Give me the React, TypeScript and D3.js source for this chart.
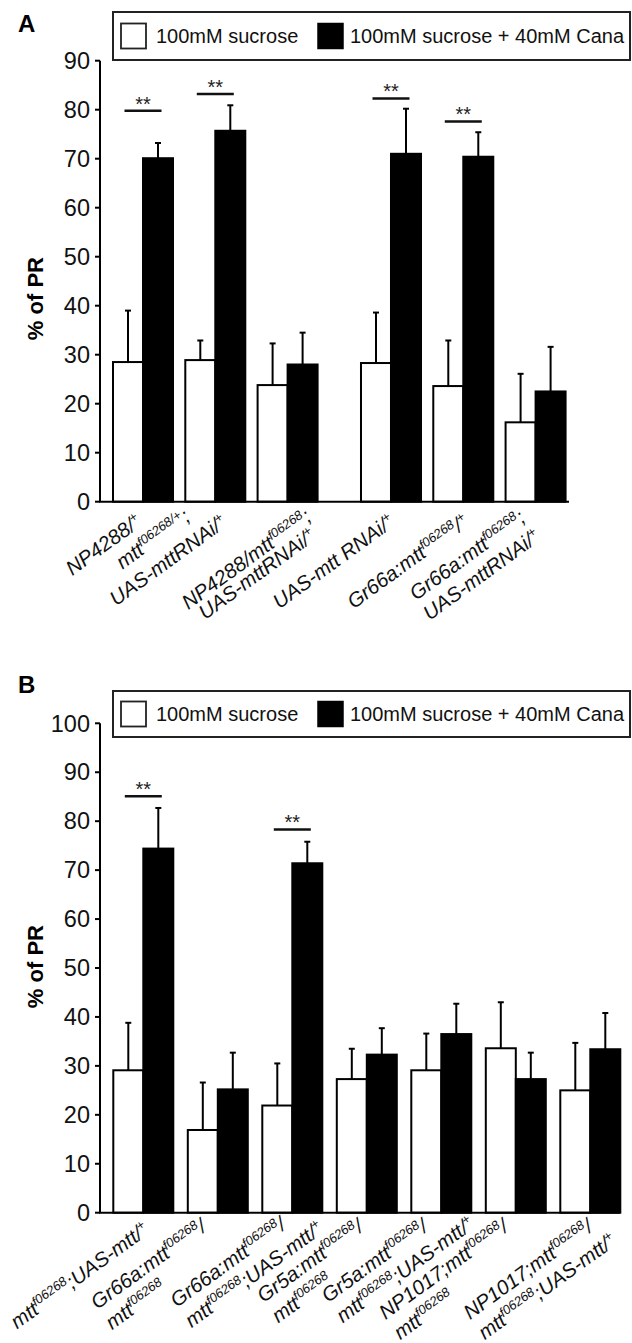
import React, { useLayoutEffect, useRef, useState } from "react";
import * as d3 from "d3";

// ---------- data ----------
const legendLabels = ["100mM sucrose", "100mM sucrose + 40mM Cana"];

const categoriesA = [
  ["NP4288/^{+}"],
  ["mtt^{f06268/+};", "UAS-mttRNAi/^{+}"],
  ["NP4288/mtt^{f06268};", "UAS-mttRNAi/^{+}"],
  ["UAS-mtt RNAi/^{+}"],
  ["Gr66a:mtt^{f06268}/^{+}"],
  ["Gr66a:mtt^{f06268};", "UAS-mttRNAi/^{+}"],
];
const sucroseA = [28.5, 28.9, 23.8, 28.3, 23.6, 16.2];
const sucroseErrA = [10.5, 4.0, 8.5, 10.3, 9.3, 9.9];
const canaA = [70.1, 75.7, 28.0, 71.0, 70.4, 22.5];
const canaErrA = [3.1, 5.2, 6.5, 9.2, 5.0, 9.1];
const sigGroupsA = [0, 1, 3, 4];
const sigLevelsA = [79.8, 83.2, 82.3, 77.6];
const ticksA = [0, 10, 20, 30, 40, 50, 60, 70, 80, 90];

const categoriesB = [
  ["mtt^{f06268};UAS-mtt/^{+}"],
  ["Gr66a:mtt^{f06268}/", "mtt^{f06268}"],
  ["Gr66a:mtt^{f06268}/", "mtt^{f06268};UAS-mtt/^{+}"],
  ["Gr5a:mtt^{f06268}/", "mtt^{f06268}"],
  ["Gr5a:mtt^{f06268}/", "mtt^{f06268};UAS-mtt/^{+}"],
  ["NP1017;mtt^{f06268}/", "mtt^{f06268}"],
  ["NP1017;mtt^{f06268}/", "mtt^{f06268};UAS-mtt/^{+}"],
];
const sucroseB = [29.1, 16.9, 21.9, 27.3, 29.1, 33.6, 25.0];
const sucroseErrB = [9.7, 9.7, 8.6, 6.2, 7.5, 9.4, 9.7];
const canaB = [74.4, 25.2, 71.4, 32.3, 36.5, 27.3, 33.4];
const canaErrB = [8.3, 7.5, 4.4, 5.4, 6.2, 5.4, 7.4];
const sigGroupsB = [0, 2];
const sigLevelsB = [85.1, 78.3];
const ticksB = [0, 10, 20, 30, 40, 50, 60, 70, 80, 90, 100];

// ---------- layout ----------
const FONT = "'Liberation Sans', Arial, Helvetica, sans-serif";
const BAR_W = 30;
const LABEL_ANGLE = -36;

// per-label placement of the end of line 1 relative to (group centre, axis)
const labelOffsetA = [[0, 23], [-24, 18], [25, 18], [5, 23], [7, 23], [-9, 19]];
const labelGapA = [0, 26, 18, 0, 0, 24];
const labelOffsetB = [[7, 20], [-10, 17], [-5, 15], [-2, 17], [-12, 17], [-6, 17], [4, 17]];
const labelGapB = 25;

type Seg = { t: string; sup: boolean };
function parseMarkup(s: string): Seg[] {
  const out: Seg[] = [];
  const re = /\^\{([^}]*)\}/g;
  let last = 0;
  let m: RegExpExecArray | null;
  while ((m = re.exec(s))) {
    if (m.index > last) out.push({ t: s.slice(last, m.index), sup: false });
    out.push({ t: m[1], sup: true });
    last = re.lastIndex;
  }
  if (last < s.length) out.push({ t: s.slice(last), sup: false });
  return out;
}

function MarkupSpans({ s }: { s: string }) {
  let shift = 0;
  return (
    <>
      {parseMarkup(s).map((seg, i) => {
        const target = seg.sup ? -7.5 : 0;
        const dy = target - shift;
        shift = target;
        return (
          <tspan key={i} dy={dy} fontSize={seg.sup ? 13 : undefined}>
            {seg.t}
          </tspan>
        );
      })}
    </>
  );
}

function RotLabel({ x, y, lines, align, gap }: { x: number; y: number; lines: string[]; align: "center" | "start"; gap: number }) {
  const refs = useRef<(SVGTextElement | null)[]>([]);
  const [widths, setWidths] = useState<number[] | null>(null);
  useLayoutEffect(() => {
    setWidths(refs.current.map((r) => (r ? r.getComputedTextLength() : 0)));
  }, []);
  const w0 = widths ? widths[0] : 0;
  return (
    <g transform={`translate(${x},${y}) rotate(${LABEL_ANGLE})`}>
      {lines.map((ln, i) => {
        const wi = widths ? widths[i] : 0;
        const ex = i === 0 ? 0 : align === "center" ? (wi - w0) / 2 : wi - w0;
        return (
          <text
            key={i}
            ref={(el) => {
              refs.current[i] = el;
            }}
            x={ex}
            y={i * gap}
            textAnchor="end"
            fontSize={20.5}
            fontStyle="italic"
            fontFamily={FONT}
            fill="#111"
          >
            <MarkupSpans s={ln} />
          </text>
        );
      })}
    </g>
  );
}

function Legend({ top, bottom }: { top: number; bottom: number }) {
  const cy = (top + bottom) / 2;
  return (
    <g fontFamily={FONT} fontSize={20} fill="#111">
      <rect x={113} y={top} width={517} height={bottom - top} fill="#fff" stroke="#222" strokeWidth={2} />
      <rect x={121} y={cy - 12.5} width={25} height={25} fill="#fff" stroke="#222" strokeWidth={1.8} />
      <text x={156} y={cy + 7}>{legendLabels[0]}</text>
      <rect x={318} y={cy - 12.5} width={25} height={25} fill="#000" stroke="#000" strokeWidth={1.5} />
      <text x={350} y={cy + 7}>{legendLabels[1]}</text>
    </g>
  );
}

type PanelProps = {
  letter: string;
  letterY: number;
  legendTop: number;
  legendBottom: number;
  y: d3.ScaleLinear<number, number>;
  ticks: number[];
  axisX: number;
  axisEnd: number;
  groupStart: (i: number) => number;
  sucrose: number[];
  sucroseErr: number[];
  cana: number[];
  canaErr: number[];
  sigGroups: number[];
  sigLevels: number[];
  categories: string[][];
  labelOffset: number[][];
  labelGap: (i: number) => number;
  labelAlign: "center" | "start";
  titleEndY: number;
};

function Panel(p: PanelProps) {
  const y0 = p.y(0);
  const yTop = p.y(p.ticks[p.ticks.length - 1]);
  return (
    <g>
      <text x={18} y={p.letterY} fontFamily={FONT} fontWeight="bold" fontSize={24} fill="#000">
        {p.letter}
      </text>
      <Legend top={p.legendTop} bottom={p.legendBottom} />
      {/* y title */}
      <text
        transform={`translate(43,${p.titleEndY}) rotate(-90)`}
        textAnchor="end"
        fontFamily={FONT}
        fontWeight="bold"
        fontSize={22}
        fill="#000"
      >
        % of PR
      </text>
      {/* y axis */}
      <line x1={p.axisX} x2={p.axisX} y1={yTop} y2={y0} stroke="#000" strokeWidth={2} />
      {p.ticks.map((t) => (
        <g key={t}>
          <line x1={p.axisX - 5} x2={p.axisX} y1={p.y(t)} y2={p.y(t)} stroke="#000" strokeWidth={2} />
          <text
            x={p.axisX - 10}
            y={p.y(t)}
            dy="0.35em"
            textAnchor="end"
            fontFamily={FONT}
            fontSize={23.5}
            fill="#111"
          >
            {t}
          </text>
        </g>
      ))}
      {/* bars */}
      {p.sucrose.map((v, i) => {
        const x0 = p.groupStart(i);
        const x1 = x0 + BAR_W;
        const cw = p.cana[i];
        return (
          <g key={i}>
            <line x1={x0 + BAR_W / 2} x2={x0 + BAR_W / 2} y1={p.y(v)} y2={p.y(v + p.sucroseErr[i])} stroke="#000" strokeWidth={2} />
            <line x1={x0 + BAR_W / 2 - 3} x2={x0 + BAR_W / 2 + 3} y1={p.y(v + p.sucroseErr[i])} y2={p.y(v + p.sucroseErr[i])} stroke="#000" strokeWidth={2} />
            <line x1={x1 + BAR_W / 2} x2={x1 + BAR_W / 2} y1={p.y(cw)} y2={p.y(cw + p.canaErr[i])} stroke="#000" strokeWidth={2} />
            <line x1={x1 + BAR_W / 2 - 3} x2={x1 + BAR_W / 2 + 3} y1={p.y(cw + p.canaErr[i])} y2={p.y(cw + p.canaErr[i])} stroke="#000" strokeWidth={2} />
            <rect x={x0} y={p.y(v)} width={BAR_W} height={y0 - p.y(v)} fill="#fff" stroke="#000" strokeWidth={2} />
            <rect x={x1} y={p.y(cw)} width={BAR_W} height={y0 - p.y(cw)} fill="#000" stroke="#000" strokeWidth={2} />
          </g>
        );
      })}
      {/* x axis */}
      <line x1={p.axisX - 1} x2={p.axisEnd} y1={y0} y2={y0} stroke="#000" strokeWidth={2} />
      {/* significance */}
      {p.sigGroups.map((g, k) => {
        const cx = p.groupStart(g) + BAR_W;
        const yy = p.y(p.sigLevels[k]);
        return (
          <g key={g}>
            <line x1={cx - 18.5} x2={cx + 18.5} y1={yy} y2={yy} stroke="#111" strokeWidth={2.5} />
            <text x={cx} y={yy} textAnchor="middle" fontFamily={FONT} fontSize={20} fill="#222">
              **
            </text>
          </g>
        );
      })}
      {/* category labels */}
      {p.categories.map((lines, i) => {
        const cx = p.groupStart(i) + BAR_W;
        const [dx, dy] = p.labelOffset[i];
        return (
          <RotLabel key={i} x={cx + dx} y={y0 + dy} lines={lines} align={p.labelAlign} gap={p.labelGap(i)} />
        );
      })}
    </g>
  );
}

export default function App() {
  const yA = d3.scaleLinear().domain([0, 90]).range([501.7, 60.7]);
  const yB = d3.scaleLinear().domain([0, 100]).range([1212.7, 723.3]);
  const slotA = d3.scaleLinear().domain([0, 1]).range([113, 185.3]);
  const slotB = d3.scaleLinear().domain([0, 1]).range([113.3, 187.8]);
  const groupStartA = (i: number) => slotA(i + (i >= 3 ? 0.43 : 0));
  const groupStartB = (i: number) => slotB(i);
  return (
    <svg
      width={632}
      height={1343}
      viewBox="0 0 632 1343"
      style={{ position: "absolute", left: 0, top: 0, background: "#fff" }}
    >
      <rect x={0} y={0} width={632} height={1343} fill="#fff" />
      <Panel
        letter="A"
        letterY={32}
        legendTop={12}
        legendBottom={60}
        y={yA}
        ticks={ticksA}
        axisX={100}
        axisEnd={569}
        groupStart={groupStartA}
        sucrose={sucroseA}
        sucroseErr={sucroseErrA}
        cana={canaA}
        canaErr={canaErrA}
        sigGroups={sigGroupsA}
        sigLevels={sigLevelsA}
        categories={categoriesA}
        labelOffset={labelOffsetA}
        labelGap={(i) => labelGapA[i]}
        labelAlign="center"
        titleEndY={257}
      />
      <Panel
        letter="B"
        letterY={693}
        legendTop={691}
        legendBottom={737}
        y={yB}
        ticks={ticksB}
        axisX={100}
        axisEnd={620}
        groupStart={groupStartB}
        sucrose={sucroseB}
        sucroseErr={sucroseErrB}
        cana={canaB}
        canaErr={canaErrB}
        sigGroups={sigGroupsB}
        sigLevels={sigLevelsB}
        categories={categoriesB}
        labelOffset={labelOffsetB}
        labelGap={() => labelGapB}
        labelAlign="start"
        titleEndY={925}
      />
    </svg>
  );
}
